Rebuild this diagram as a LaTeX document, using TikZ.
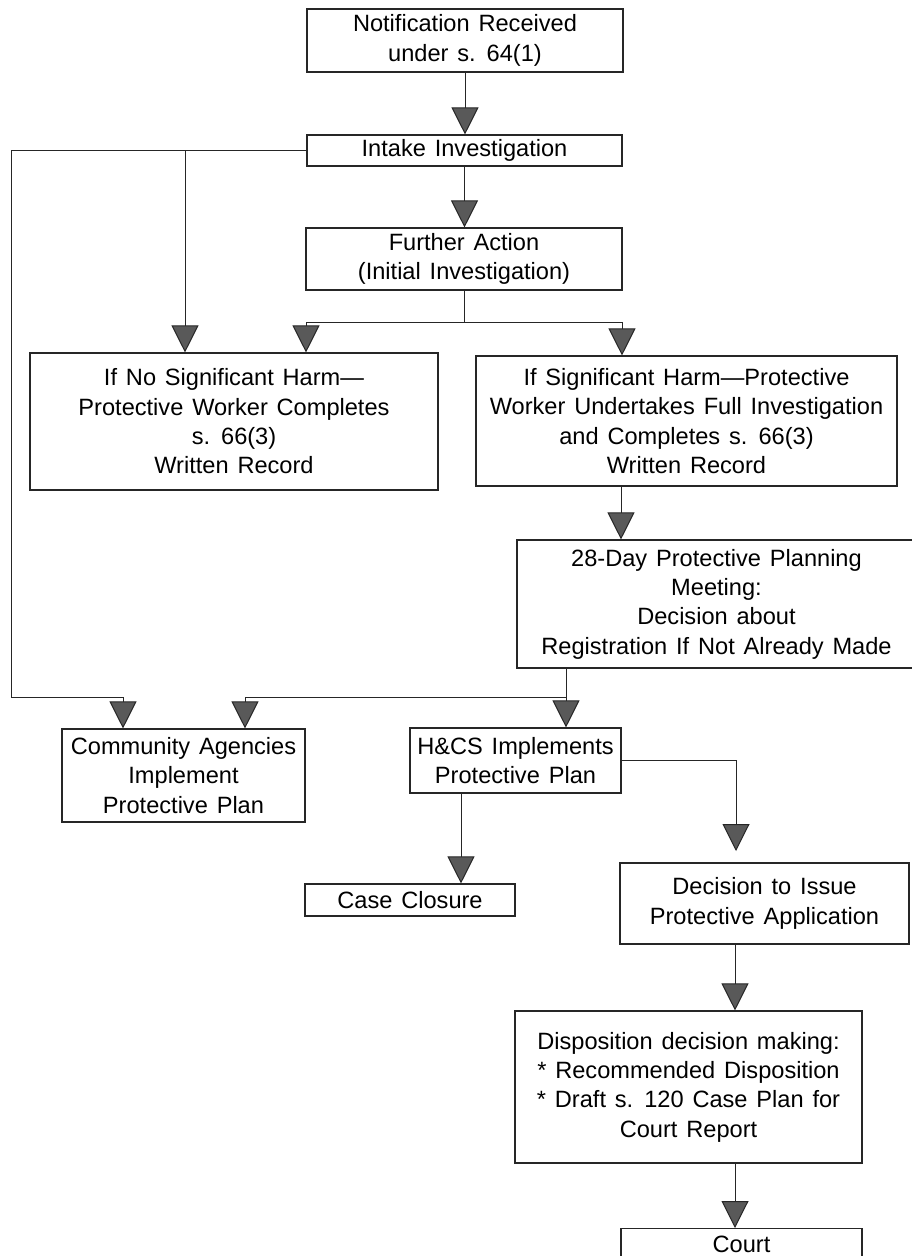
\documentclass[tikz,border=0pt]{standalone}
\usepackage{fontspec}
\setmainfont{Liberation Sans}
\usetikzlibrary{arrows.meta}
\newcommand\bxfont{\fontsize{23.6pt}{29.3pt}\selectfont\spaceskip=8.85pt plus 2pt minus 1pt\relax}
\begin{document}
\begin{tikzpicture}[x=1pt,y=-1pt,
  box/.style={draw=black!85, line width=1.1pt, inner sep=0pt, align=center, font=\bxfont},
  conn/.style={draw=black!85, line width=1pt},
  arr/.style={conn, -{Triangle[width=27pt,length=27pt,fill=black!65]}}]
\useasboundingbox (0,0) rectangle (912,1256);
\fill[white] (0,0) rectangle (912,1256);
\clip (0,0) rectangle (912,1256);

% nodes
\node[box, minimum width=316pt, minimum height=63pt] (notif) at (465,40.5) {Notification Received\\under s. 64(1)};
\node[box, minimum width=315pt, minimum height=31pt] (intake) at (464.5,150.5) {Intake Investigation};
\node[box, minimum width=316pt, minimum height=62pt] (further) at (464,259) {Further Action\\(Initial Investigation)};
\node[box, minimum width=408pt, minimum height=137pt] (nosig) at (234,421.5) {If No Significant Harm—\\Protective Worker Completes\\s. 66(3)\\Written Record};
\node[box, minimum width=421pt, minimum height=130pt] (sig) at (686.5,421) {If Significant Harm—Protective\\Worker Undertakes Full Investigation\\and Completes s. 66(3)\\Written Record};
\node[box, minimum width=399pt, minimum height=128pt] (plan) at (716.5,604) {28-Day Protective Planning\\Meeting:\\Decision about\\Registration If Not Already Made};
\node[box, minimum width=243pt, minimum height=93pt] (comm) at (183.5,775.5) {Community Agencies\\Implement\\Protective Plan};
\node[box, minimum width=211pt, minimum height=65pt] (hcs) at (515.5,760.5) {H\&CS Implements\\Protective Plan};
\node[box, minimum width=210pt, minimum height=32pt] (closure) at (410,900) {Case Closure};
\node[box, minimum width=289pt, minimum height=81pt] (dec) at (764.5,903.5) {Decision to Issue\\Protective Application};
\node[box, minimum width=347pt, minimum height=152pt] (disp) at (688.5,1087) {Disposition decision making:\\* Recommended Disposition\\* Draft s. 120 Case Plan for\\Court Report};
\node[box, anchor=north, minimum width=241pt, text height=17pt, text depth=60pt, inner ysep=7pt] (court) at (741.5,1228) {Court};

% helper coordinates
\coordinate (L) at (11,697);
\coordinate (ca) at (123,697);
\coordinate (cb) at (245,697);
\coordinate (b1) at (185,0);
\coordinate (s1) at (306,322);
\coordinate (s2) at (622,322);
\coordinate (s3) at (621,0);
\coordinate (p1) at (566,697);
\coordinate (d1) at (736,851);
\coordinate (h1) at (461,0);
\coordinate (x1) at (735,0);

% connectors
\draw[arr] (notif.south) -- (notif.south |- intake.north);
\draw[arr] (intake.south) -- (intake.south |- further.north);
\draw[arr] (intake.west) -| (L) -- (ca) -- (ca |- comm.north);
\draw[arr] (b1 |- intake.west) -- (b1 |- nosig.north);
\draw[conn] (further.south) -- (further.south |- s1);
\draw[conn] (s1) -- (s2);
\draw[arr] (s1) -- (s1 |- nosig.north);
\draw[arr] (s2) -- (s2 |- sig.north);
\draw[arr] (s3 |- sig.south) -- (s3 |- plan.north);
\draw[arr] (p1 |- plan.south) -- (p1 |- hcs.north);
\draw[arr] (p1) -- (cb) -- (cb |- comm.north);
\draw[arr] (hcs.east) -| (d1);
\draw[arr] (h1 |- hcs.south) -- (h1 |- closure.north);
\draw[arr] (x1 |- dec.south) -- (x1 |- disp.north);
\draw[arr] (x1 |- disp.south) -- (x1 |- court.north);
\end{tikzpicture}
\end{document}
